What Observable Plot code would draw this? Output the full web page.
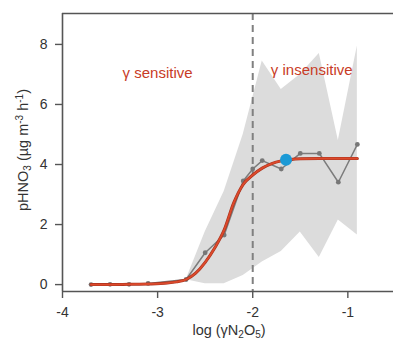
<!DOCTYPE html>
<html>
<head>
<meta charset="utf-8">
<script src="https://cdn.jsdelivr.net/npm/d3@7"></script>
<script src="https://cdn.jsdelivr.net/npm/@observablehq/plot@0.6"></script>
<style>
  html, body { margin: 0; padding: 0; background: #fff; }
  #chart { width: 393px; height: 345px; }
</style>
</head>
<body>
<div id="chart"></div>
<script>
// ---- data ----
const xTicks = [-4, -3, -2, -1];
const yTicks = [0, 2, 4, 6, 8];

// observed gray points
const obsX = [-3.7, -3.5, -3.3, -3.1, -2.7, -2.5, -2.3, -2.1, -2.0, -1.9, -1.7, -1.5, -1.3, -1.1, -0.9];
const obsY = [0.0, 0.01, 0.01, 0.04, 0.17, 1.06, 1.65, 3.45, 3.85, 4.13, 3.85, 4.37, 4.37, 3.41, 4.67];

// gray range band
const bandX = [-2.7, -2.5, -2.3, -2.1, -1.9, -1.7, -1.5, -1.3, -1.1, -0.9];
const bandLow = [0.16, 0.03, 0.03, 0.3, 0.75, 1.1, 1.75, 0.9, 2.15, 1.65];
const bandHigh = [0.16, 1.75, 3.1, 5.0, 7.45, 6.5, 7.0, 7.7, 4.8, 7.95];

// red fitted curve
const fitX = [-3.7, -3.5, -3.3, -3.1, -2.9, -2.8, -2.7, -2.6, -2.5, -2.4, -2.3, -2.2, -2.1, -2.0, -1.9, -1.8, -1.7, -1.6, -1.5, -1.3, -1.1, -0.9];
const fitY = [0.0, 0.0, 0.01, 0.02, 0.05, 0.09, 0.17, 0.38, 0.74, 1.22, 1.82, 2.72, 3.34, 3.65, 3.88, 4.03, 4.12, 4.17, 4.19, 4.2, 4.2, 4.2];

// highlighted blue point
const blueX = [-1.65];
const blueY = [4.16];

// threshold
const threshold = [-2];

// region labels
const regionLabels = ["γ sensitive", "γ insensitive"];

// ---- tables ----
const obs = obsX.map((x, i) => ({x, y: obsY[i]}));
const band = bandX.map((x, i) => ({x, lo: bandLow[i], hi: bandHigh[i]}));
const fit = fitX.map((x, i) => ({x, y: fitY[i]}));
const blue = blueX.map((x, i) => ({x, y: blueY[i]}));

const xDomain = [-4, -0.52];
const yDomain = [-0.23, 9.03];
const FONT = "'Liberation Sans', Arial, Helvetica, sans-serif";
const red = "#c83b26";
const frameColor = "#555";

const plot = Plot.plot({
  width: 393,
  height: 345,
  marginLeft: 62,
  marginRight: 0,
  marginTop: 13,
  marginBottom: 54,
  style: {fontFamily: FONT, fontSize: "14px", color: "#333", background: "#fff"},
  x: {domain: xDomain},
  y: {domain: yDomain},
  marks: [
    Plot.areaY(band, {x: "x", y1: "lo", y2: "hi", fill: "#dcdcdc"}),
    Plot.ruleX(threshold, {stroke: "#808080", strokeWidth: 2, strokeDasharray: "7,5"}),
    Plot.line(obs, {x: "x", y: "y", stroke: "#7c7c7c", strokeWidth: 1.5}),
    Plot.dot(obs, {x: "x", y: "y", r: 2.4, fill: "#777", stroke: "none"}),
    Plot.line(fit, {x: "x", y: "y", stroke: "#a8311d", strokeWidth: 3, curve: "monotone-x"}),
    Plot.line(fit, {x: "x", y: "y", stroke: "#dc4a2c", strokeWidth: 1.8, curve: "monotone-x"}),
    Plot.dot(blue, {x: "x", y: "y", r: 6, fill: "#1b9ad6", stroke: "none"}),
    Plot.text([regionLabels[0]], {x: -3.0, y: 7.05, text: d => d, fill: red, fontSize: 15, textAnchor: "middle"}),
    Plot.text([regionLabels[1]], {x: -1.38, y: 7.15, text: d => d, fill: red, fontSize: 15, textAnchor: "middle"}),
    // frame (top, left, bottom)
    Plot.ruleY([yDomain[1]], {stroke: frameColor, strokeWidth: 1.6}),
    Plot.ruleY([yDomain[0]], {stroke: frameColor, strokeWidth: 1.6}),
    Plot.ruleX([xDomain[0]], {stroke: frameColor, strokeWidth: 1.6}),
    Plot.axisX({ticks: xTicks, tickSize: 7, tickPadding: 9, label: null, fontSize: 14, stroke: frameColor, strokeWidth: 1.4, tickFormat: d => String(d).replace("−", "-")}),
    Plot.axisY({ticks: yTicks, tickSize: 7, tickPadding: 8, label: null, fontSize: 14, stroke: frameColor, strokeWidth: 1.4})
  ]
});

document.getElementById("chart").appendChild(plot);

// axis titles with sub/superscripts
const svg = d3.select(plot);
const xt = svg.append("text")
  .attr("x", 229).attr("y", 335)
  .attr("text-anchor", "middle")
  .attr("font-family", FONT).attr("font-size", 14.5).attr("fill", "#333");
xt.append("tspan").text("log (γN");
xt.append("tspan").attr("font-size", 10).attr("dy", 3).text("2");
xt.append("tspan").attr("dy", -3).text("O");
xt.append("tspan").attr("font-size", 10).attr("dy", 3).text("5");
xt.append("tspan").attr("dy", -3).text(")");

const yt = svg.append("text")
  .attr("transform", "translate(28,150) rotate(-90)")
  .attr("text-anchor", "middle")
  .attr("font-family", FONT).attr("font-size", 14.5).attr("fill", "#333");
yt.append("tspan").text("pHNO");
yt.append("tspan").attr("font-size", 10).attr("dy", 3).text("3");
yt.append("tspan").attr("dy", -3).text(" (µg m");
yt.append("tspan").attr("font-size", 10).attr("dy", -5.5).text("-3");
yt.append("tspan").attr("dy", 5.5).text(" h");
yt.append("tspan").attr("font-size", 10).attr("dy", -5.5).text("-1");
yt.append("tspan").attr("dy", 5.5).text(")");
</script>
</body>
</html>
